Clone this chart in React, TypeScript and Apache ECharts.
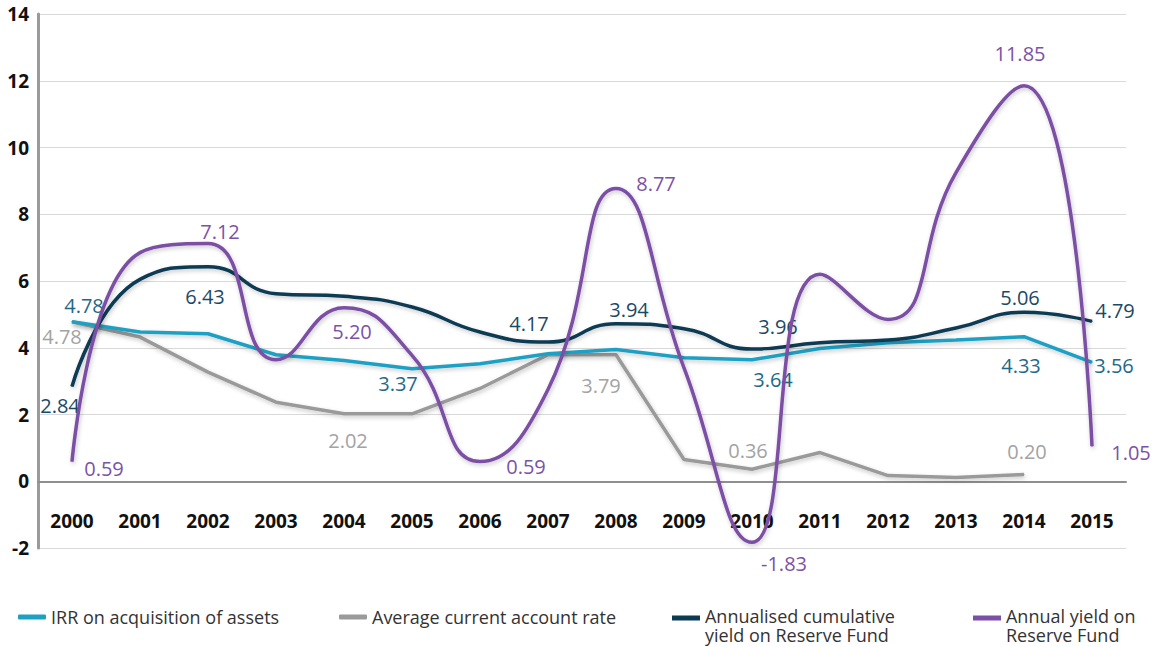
import React, { useEffect, useRef } from "react";
import * as echarts from "echarts";

const years = ["2000","2001","2002","2003","2004","2005","2006","2007","2008","2009","2010","2011","2012","2013","2014","2015"];

const irr = [4.78, 4.47, 4.42, 3.79, 3.62, 3.37, 3.52, 3.82, 3.95, 3.7, 3.64, 3.98, 4.15, 4.23, 4.33, 3.56];
const currentAccount = [4.78, 4.32, 3.27, 2.37, 2.02, 2.02, 2.78, 3.79, 3.79, 0.65, 0.36, 0.86, 0.17, 0.11, 0.2, null];
const cumulative = [2.84, 6.05, 6.43, 5.62, 5.54, 5.22, 4.47, 4.17, 4.72, 4.57, 3.96, 4.15, 4.23, 4.59, 5.06, 4.79];
const annualYield = [0.59, 6.85, 7.12, 3.64, 5.2, 3.77, 0.59, 2.75, 8.77, 3.4, -1.83, 6.2, 4.85, 9.25, 11.85, 1.05];

const irrLabels = ["4.78", null, null, null, null, "3.37", null, null, null, null, "3.64", null, null, null, "4.33", "3.56"];
const currentLabels = ["4.78", null, null, null, "2.02", null, null, null, "3.79", null, "0.36", null, null, null, "0.20", null];
const cumulativeLabels = ["2.84", null, "6.43", null, null, null, null, "4.17", "3.94", null, "3.96", null, null, null, "5.06", "4.79"];
const yieldLabels = ["0.59", null, "7.12", null, "5.20", null, "0.59", null, "8.77", null, "-1.83", null, null, null, "11.85", "1.05"];

const yTicks = { min: -2, max: 14, interval: 2 };

const seriesNames = [
  "IRR on acquisition of assets",
  "Average current account rate",
  "Annualised cumulative\nyield on Reserve Fund",
  "Annual yield on\nReserve Fund",
];

// label offsets (pixels) per series, indexed by category
const irrOffsets: Record<number, [number, number]> = { 0: [12, -16], 5: [-14, 15], 10: [21, 20], 14: [-3, 29], 15: [22, 3] };
const currentOffsets: Record<number, [number, number]> = { 0: [-10, 15], 4: [4, 27], 8: [-15, 31], 10: [-4, -19], 14: [3, -23] };
const cumulativeOffsets: Record<number, [number, number]> = { 0: [-12, 19], 2: [-3, 30], 7: [-19, -19], 8: [13, -14], 10: [26, -23], 14: [-4, -15], 15: [23, -11] };
const yieldOffsets: Record<number, [number, number]> = { 0: [32, 7], 2: [12, -12], 4: [8, 24], 6: [46, 5], 8: [40, -5], 10: [32, 21], 14: [-4, -32], 15: [39, 6] };

const FONT = "'Open Sans', 'Noto Sans', sans-serif";

function buildData(values: (number | null)[], labels: (string | null)[], offsets: Record<number, [number, number]>, color: string) {
  return values.map((v, i) => {
    const text = labels[i];
    if (text == null) return { value: v };
    return {
      value: v,
      label: {
        show: true,
        position: "inside",
        offset: offsets[i] || [0, 0],
        formatter: () => text,
        color,
        fontFamily: FONT,
        fontSize: 20,
        align: "center",
        verticalAlign: "middle",
      },
    };
  });
}

const shadow = { shadowColor: "rgba(0,0,0,0.22)", shadowBlur: 4, shadowOffsetX: 1, shadowOffsetY: 2 };

export default function App() {
  const ref = useRef<HTMLDivElement>(null);
  useEffect(() => {
    if (!ref.current) return;
    const chart = echarts.init(ref.current, null, { renderer: "svg" });
    const colors = ["#1ea0c3", "#9a9a9a", "#0b3a53", "#7b4fa5"];
    const legendBase = {
      orient: "horizontal",
      icon: "roundRect",
      itemWidth: 28,
      itemHeight: 5,
      itemGap: 8,
    };
    // icon for two-line entries: the bar sits at the top of a taller box so it aligns with the first line
    const topBarIcon = "path://M0,0 L28,0 L28,5 L0,5 Z M0,19 L0.01,19 L0.01,19.01 Z";
    const legendText = { fontFamily: FONT, fontSize: 18, color: "#333" };
    const legendText2 = { ...legendText, lineHeight: 19 };
    const mkSeries = (i: number, data: any[], smooth: number | boolean, z: number) => ({
      name: seriesNames[i],
      type: "line",
      data,
      smooth,
      symbol: "circle",
      symbolSize: 1,
      showSymbol: true,
      itemStyle: { color: colors[i], borderWidth: 0 },
      lineStyle: { color: colors[i], width: 3.5, ...shadow },
      emphasis: { disabled: true },
      z,
    });
    chart.setOption({
      animation: false,
      backgroundColor: "#ffffff",
      color: colors,
      grid: { left: 38, right: 33, top: 14, bottom: 99, containLabel: false },
      legend: [
        { ...legendBase, data: [seriesNames[0]], left: 13, top: 603, textStyle: legendText },
        { ...legendBase, data: [seriesNames[1]], left: 334, top: 603, textStyle: legendText },
        { ...legendBase, icon: topBarIcon, itemHeight: 19, data: [seriesNames[2]], left: 667, top: 601, textStyle: legendText2 },
        { ...legendBase, icon: topBarIcon, itemHeight: 19, data: [seriesNames[3]], left: 968, top: 601, textStyle: legendText2 },
      ],
      xAxis: {
        type: "category",
        data: years,
        boundaryGap: true,
        axisLine: { show: true, onZero: true, lineStyle: { color: "#8f8f8f", width: 2 } },
        axisTick: { show: false },
        axisLabel: { inside: true, margin: 18, color: "#111", fontFamily: FONT, fontWeight: "bold", fontSize: 19 },
        splitLine: { show: false },
      },
      yAxis: {
        type: "value",
        min: yTicks.min,
        max: yTicks.max,
        interval: yTicks.interval,
        axisLine: { show: true, lineStyle: { color: "#9a9a9a", width: 3 } },
        axisTick: { show: false },
        axisLabel: { margin: 9, color: "#111", fontFamily: FONT, fontWeight: "bold", fontSize: 19 },
        splitLine: { show: true, lineStyle: { color: "#d9d9d9", width: 1 } },
      },
      series: [
        mkSeries(0, buildData(irr, irrLabels, irrOffsets, "#21698a"), false, 3),
        mkSeries(1, buildData(currentAccount, currentLabels, currentOffsets, "#a3a3a3"), false, 2),
        mkSeries(2, buildData(cumulative, cumulativeLabels, cumulativeOffsets, "#1b4a66"), 0.5, 4),
        mkSeries(3, buildData(annualYield, yieldLabels, yieldOffsets, "#7b52a8"), 0.5, 5),
      ],
    });
    return () => chart.dispose();
  }, []);
  return <div ref={ref} style={{ position: "fixed", left: 0, top: 0, width: 1159, height: 647, background: "#fff" }} />;
}
